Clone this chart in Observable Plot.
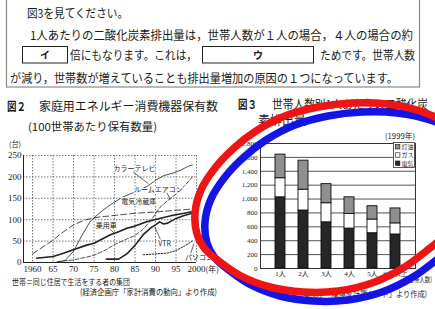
<!DOCTYPE html>
<html><head><meta charset="utf-8">
<script src="https://cdn.jsdelivr.net/npm/d3@7"></script>
<script src="https://cdn.jsdelivr.net/npm/@observablehq/plot@0.6"></script>
<style>
html,body{margin:0;padding:0;background:#fff;}
#page{position:relative;width:435px;height:309px;overflow:hidden;background:#fff;}
#page > svg{position:absolute;}
</style></head><body><div id="page"></div>
<script>
// ---------- Figure 3 data (kg per person, 1999) ----------
const hhSizes = ["1人","2人","3人","4人","5人","6人以上"];
const electricity = [1025, 835, 665, 575, 508, 490];
const gas = [275, 300, 275, 210, 197, 160];
const kerosene = [340, 418, 275, 240, 192, 215];
const fuelNames = ["電気","ガス","灯油"];
const fig3YTicks = [0,200,400,600,800,1000,1200,1400,1600,1800];

// ---------- Figure 2 data (units per 100 households) ----------
const fig2XTicks = [1960,1965,1970,1975,1980,1985,1990,1995,2000];
const fig2XLabels = ["1960","65","70","75","80","85","90","95","2000"];
const fig2YTicks = [0,50,100,150,200,250];
const colorTvYears = [1966,1968,1970,1972,1974,1976,1978,1980,1982,1985,1988,1990,1992,1994,1996,1998,1999];
const colorTvUnits = [0,5,26,62,95,113,128,141,153,165,178,192,203,208,215,225,228];
const airconYears = [1966,1970,1973,1975,1978,1980,1983,1985,1987,1989,1991,1993,1995,1997,1999];
const airconUnits = [2,6,12,17,30,42,55,63,78,100,128,145,160,178,200];
const fridgeYears = [1960,1962,1965,1967,1970,1973,1976,1980,1985,1990,1995,1999];
const fridgeUnits = [20,33,52,68,88,100,106,110,115,118,122,125];
const carYears = [1961,1965,1967,1970,1973,1975,1977,1979,1981,1983,1985,1988,1991,1994,1997,2000];
const carUnits = [10,14,20,30,40,45,55,65,72,80,85,96,103,110,115,121];
const vtrYears = [1978,1981,1983,1985,1987,1989,1990,1991,1992,1993,1995,1997,1999];
const vtrUnits = [8,8,20,40,65,82,88,95,90,92,103,110,115];
const pcYears = [1987,1990,1993,1995,1997,1999];
const pcUnits = [18,20,22,28,38,50];
const fig2Labels = ["カラーテレビ","ルームエアコン","電気冷蔵庫","乗用車","VTR","パソコン"];
const fig2LabelYears = [1984.9,1990.7,1985.9,1978,1992.2,1997.2];
const fig2LabelUnits = [219,170,142,86,44,12];

const JP = "'Noto Sans CJK JP', sans-serif";
const SERIF = "'Liberation Serif', 'Noto Sans CJK JP', serif";
const page = document.getElementById("page");

// ---------- Figure 2 plot ----------
const series = [
  {name:"カラーテレビ", years:colorTvYears, vals:colorTvUnits, dash:null, w:0.8},
  {name:"ルームエアコン", years:airconYears, vals:airconUnits, dash:"4,2", w:0.8},
  {name:"電気冷蔵庫", years:fridgeYears, vals:fridgeUnits, dash:"6,3", w:0.8},
  {name:"乗用車", years:carYears, vals:carUnits, dash:null, w:1.6},
  {name:"VTR", years:vtrYears, vals:vtrUnits, dash:null, w:1.6},
  {name:"パソコン", years:pcYears, vals:pcUnits, dash:"1.5,1.5", w:1}
];
const labelRows = fig2Labels.map((l,i)=>({l, x:fig2LabelYears[i], y:fig2LabelUnits[i]}));
const fig2 = Plot.plot({
  width:228, height:140, marginLeft:23, marginRight:32, marginTop:15, marginBottom:18,
  style:{fontFamily:SERIF, fontSize:"9px", color:"#1a1a1a", background:"transparent"},
  x:{domain:[1957.8,2000], ticks:fig2XTicks, tickFormat:(d)=>fig2XLabels[fig2XTicks.indexOf(d)], tickSize:0, tickPadding:3, label:null},
  y:{domain:[0,250], ticks:fig2YTicks, tickSize:0, tickPadding:2, label:null},
  marks:[
    Plot.gridX(fig2XTicks, {stroke:"#555", strokeOpacity:1, strokeDasharray:"1.5,1.5", strokeWidth:0.8}),
    Plot.gridY(fig2YTicks.slice(1), {stroke:"#555", strokeOpacity:1, strokeDasharray:"1.5,1.5", strokeWidth:0.8}),
    Plot.ruleY([0], {stroke:"#222", strokeWidth:1}),
    Plot.ruleX([1957.8], {stroke:"#222", strokeWidth:1}),
    ...series.map(s => Plot.line(s.years.map((yr,i)=>({x:yr, y:s.vals[i]})), {x:"x", y:"y", stroke:"#222", strokeWidth:s.w, strokeDasharray:s.dash})),
    Plot.text(labelRows.slice(0,5), {x:"x", y:"y", text:"l", fontFamily:JP, fontSize:7, fill:"#222", stroke:"white", strokeWidth:2, paintOrder:"stroke"}),
    Plot.text(labelRows.slice(5), {x:"x", y:"y", text:"l", fontFamily:JP, fontSize:7, fill:"#222", textAnchor:"start"}),
    Plot.link([{x1:1984.6,y1:211,x2:1988.3,y2:184},{x1:1992.8,y1:163,x2:1993.6,y2:147},{x1:1979,y1:77,x2:1980,y2:68},{x1:1991.2,y1:54,x2:1989.8,y2:83},{x1:1998.6,y1:22,x2:1999.4,y2:44}], {x1:"x1",y1:"y1",x2:"x2",y2:"y2", stroke:"#222", strokeWidth:0.7}),
    Plot.text([{x:2000,y:0}], {x:"x", y:"y", text:()=> "(年)", dx:9, dy:7, fontFamily:JP, fontSize:8, textAnchor:"start", fill:"#222"})
  ]
});
fig2.style.left = "0px"; fig2.style.top = "140px";
page.appendChild(fig2);

// ---------- Figure 3 plot ----------
const rows3 = [];
hhSizes.forEach((h,i)=>{
  rows3.push({size:h, fuel:"電気", v:electricity[i]});
  rows3.push({size:h, fuel:"ガス", v:gas[i]});
  rows3.push({size:h, fuel:"灯油", v:kerosene[i]});
});
const fig3 = Plot.plot({
  width:210, height:155, marginLeft:35, marginRight:20, marginTop:13, marginBottom:17,
  style:{fontFamily:SERIF, fontSize:"7px", color:"#1a1a1a", background:"transparent"},
  x:{domain:hhSizes, padding:0.57, tickSize:0, tickPadding:3, label:null},
  y:{domain:[0,1800], ticks:fig3YTicks, tickFormat:d3.format(","), tickSize:0, tickPadding:3, label:null},
  color:{domain:fuelNames, range:["#262626","#ffffff","#8f8f8f"]},
  marks:[
    Plot.ruleY(fig3YTicks, {stroke:"#555", strokeWidth:1}),
    Plot.frame({stroke:"#333", strokeWidth:1}),
    Plot.barY(rows3, {x:"size", y:"v", fill:"fuel", order:fuelNames, stroke:"#111", strokeWidth:0.9})
  ]
});
fig3.style.left = "225px"; fig3.style.top = "130px";
page.appendChild(fig3);

// ---------- Text overlay ----------
const NS = "http://www.w3.org/2000/svg";
function el(tag, attrs, parent){ const e=document.createElementNS(NS,tag); for(const k in attrs) e.setAttribute(k, attrs[k]); if(parent) parent.appendChild(e); return e; }
function txt(svg, s, x, y, size, o={}){
  const e = el("text", {x, y, "font-size":size, "font-family":o.font||JP, fill:o.fill||"#1a1a1a", "text-anchor":o.anchor||"start", "font-weight":o.weight||"normal"}, svg);
  if (o.len){ e.setAttribute("textLength", o.len); e.setAttribute("lengthAdjust","spacingAndGlyphs"); }
  e.textContent = s; return e;
}
const ov = el("svg", {width:435, height:309, viewBox:"0 0 435 309"});
ov.style.left="0px"; ov.style.top="0px";
page.appendChild(ov);

// top box
el("rect", {x:6.5, y:-2, width:413, height:89, fill:"none", stroke:"#8a8a8a", "stroke-width":1.2}, ov);
txt(ov, "図3を見てください。", 27, 17.5, 12, {len:101});
txt(ov, "1人あたりの二酸化炭素排出量は，世帯人数が１人の場合，４人の場合の約", 30, 39.5, 12, {len:383});
el("rect", {x:22.5, y:46.5, width:45, height:16.5, fill:"none", stroke:"#222", "stroke-width":1}, ov);
txt(ov, "イ", 45, 59, 10, {anchor:"middle", weight:"bold"});
txt(ov, "倍にもなります。これは，", 70, 59.5, 12, {len:127});
el("rect", {x:202.5, y:46.5, width:111, height:16.5, fill:"none", stroke:"#222", "stroke-width":1}, ov);
txt(ov, "ウ", 258, 59, 10, {anchor:"middle", weight:"bold"});
txt(ov, "ためです。世帯人数", 320, 59.5, 12, {len:95});
txt(ov, "が減り，世帯数が増えていることも排出量増加の原因の１つになっています。", 10, 82.5, 12, {len:388});

// figure 2 texts
txt(ov, "図２", 7, 110.5, 12, {weight:"bold", len:19});
txt(ov, "家庭用エネルギー消費機器保有数", 39, 110.5, 12, {len:179});
txt(ov, "(100世帯あたり保有数量)", 28, 130.5, 11, {len:129});
txt(ov, "(台)", 9, 147, 7.5, {len:12});
txt(ov, "世帯＝同じ住居で生活をする者の集団", 12, 284.5, 8.5, {len:118});
txt(ov, "(経済企画庁「家計消費の動向」より作成)", 80, 295, 8.5, {len:137});

// figure 3 texts
txt(ov, "図３", 238, 108.5, 12, {weight:"bold", len:19});
txt(ov, "世帯人数別1人あたりの二酸化炭", 272, 108.5, 12, {len:156});
txt(ov, "素排出量", 258, 124.5, 12, {len:48});
txt(ov, "(1999年)", 415, 139, 7.5, {anchor:"end", len:30});
txt(ov, "(世帯人数)", 407, 282, 7, {len:25});
txt(ov, "(環境庁「環境家計簿シート」より作成)", 427, 297, 8.5, {anchor:"end", len:127});

// legend for figure 3
el("rect", {x:393.5, y:142.5, width:21, height:25, fill:"#fff", stroke:"#333", "stroke-width":0.8}, ov);
const legendFill = {"灯油":"#8f8f8f","ガス":"#ffffff","電気":"#262626"};
["灯油","ガス","電気"].forEach((f,i)=>{
  const cy = 146.8 + i*8.2;
  el("rect", {x:395.5, y:cy-2.2, width:4.4, height:4.4, fill:legendFill[f], stroke:"#111", "stroke-width":0.6}, ov);
  txt(ov, f, 401.5, cy+2.3, 6, {len:12});
});

// ---------- Hand-drawn loop marks (red and blue) ----------
const markSvg = el("svg", {width:435, height:309, viewBox:"0 0 435 309"});
markSvg.style.left="0px"; markSvg.style.top="0px";
page.appendChild(markSvg);
const loop = [[195,213],[201,190],[215,168],[234,148],[256,131],[285,116],[318,107],[352,103],[387,104],[420,111],[449,125],[471,147],[480,175],[473,203],[455,227],[430,248],[403,268],[372,283],[338,291],[303,292],[270,287],[241,276],[220,262],[205,249],[197,234]];
const loopPath = d3.line().curve(d3.curveCatmullRomClosed.alpha(0.5))(loop);
el("path", {d:loopPath, transform:"translate(10,9)", fill:"none", stroke:"#1414e6", "stroke-width":7.5}, markSvg);
el("path", {d:loopPath, fill:"none", stroke:"#f01414", "stroke-width":7.5}, markSvg);
</script></body></html>
